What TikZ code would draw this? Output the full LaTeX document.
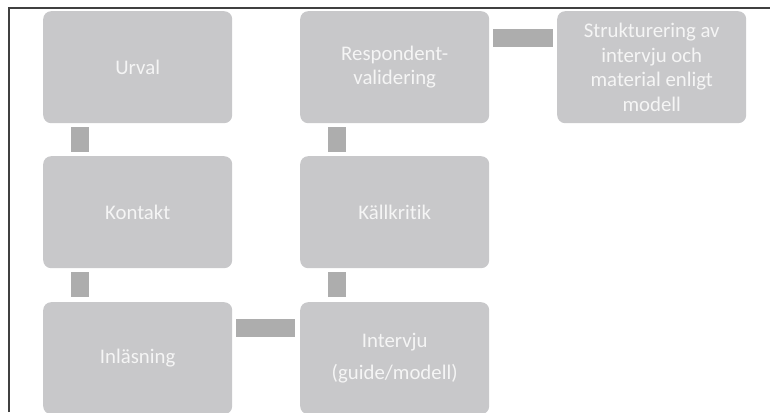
\documentclass[tikz,border=0pt]{standalone}
\usepackage{fontspec}
\setmainfont{Carlito}[Ligatures=NoCommon]
\definecolor{boxfill}{RGB}{200,200,202}
\definecolor{boxtext}{RGB}{245,245,245}
\definecolor{linkfill}{RGB}{173,173,173}
\definecolor{framecol}{RGB}{64,64,64}
\begin{document}
\begin{tikzpicture}[x=1pt,y=-1pt,
  stage/.style={rectangle, rounded corners=8pt, fill=boxfill, text=boxtext,
    minimum width=189pt, minimum height=112pt, inner sep=0pt, anchor=north west,
    align=center, font=\fontsize{20.8pt}{24.5pt}\selectfont},
  link/.style={draw=linkfill, line width=18pt}]
\useasboundingbox (0,0) rectangle (770,412);
% frame along the top and left edges
\draw[framecol, line width=1.6pt] (9,412) -- (9,8) -- (770,8);

% process stages
\node[stage] (urval)  at (43,11)  {Urval};
\node[stage] (kontakt) at (43,156) {Kontakt};
\node[stage] (inlas)  at (43,302) {Inläsning};
\node[stage] (intervju) at (300,302) {Intervju\\[8pt](guide/modell)};
\node[stage] (kalla)  at (300,156) {Källkritik};
\node[stage] (resp)   at (300,11)  {Respondent-\\validering};
\node[stage] (strukt) at (557,11)  {Strukturering av\\intervju och\\material enligt\\modell};

% connecting bars
\draw[link] ([shift={(37,4)}]urval.south west) -- ([shift={(37,-4)}]kontakt.north west);
\draw[link] ([shift={(37,4)}]kontakt.south west) -- ([shift={(37,-5)}]inlas.north west);
\draw[link] ([shift={(4,26)}]inlas.north east) -- ([shift={(-5,26)}]intervju.north west);
\draw[link] ([shift={(37,-5)}]intervju.north west) -- ([shift={(37,4)}]kalla.south west);
\draw[link] ([shift={(37,-4)}]kalla.north west) -- ([shift={(37,4)}]resp.south west);
\draw[link] ([shift={(4,27)}]resp.north east) -- ([shift={(-4,27)}]strukt.north west);
\end{tikzpicture}
\end{document}
